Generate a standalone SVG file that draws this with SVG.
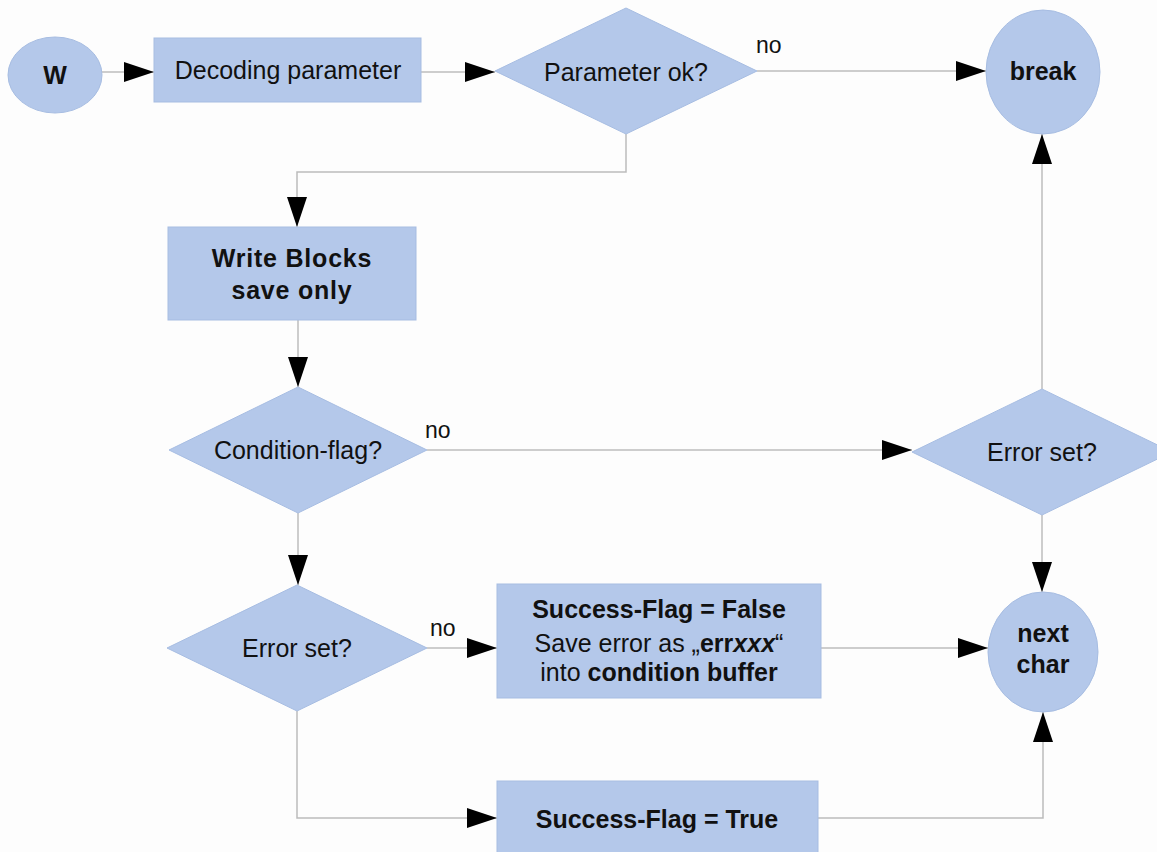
<svg xmlns="http://www.w3.org/2000/svg" width="1157" height="852" viewBox="0 0 1157 852">
  <style>
    .shape { fill: #b4c8ea; stroke: #a7bde2; stroke-width: 1; }
    .conn { fill: none; stroke: #bcbcbc; stroke-width: 1.5; marker-end: url(#arrow); }
    text { font-family: "Liberation Sans", Arial, sans-serif; font-size: 25px; fill: #111; text-anchor: middle; }
    .b { font-weight: bold; }
    .lbl { font-size: 23px; text-anchor: start; }
  </style>
  <defs>
    <marker id="arrow" markerUnits="userSpaceOnUse" markerWidth="30" markerHeight="20" refX="30" refY="10" orient="auto">
      <path d="M0,0 L30,10 L0,20 z" fill="#000"/>
    </marker>
  </defs>
  <rect width="1157" height="852" fill="#fdfdfd"/>

  <!-- connectors -->
  <g id="connectors">
    <path class="conn" d="M102,72 H154"/>
    <path class="conn" d="M421,72 H495"/>
    <path class="conn" d="M757,71 H986"/>
    <path class="conn" d="M626,134 V172 H297 V227"/>
    <path class="conn" d="M298,320 V387"/>
    <path class="conn" d="M427,450 H912"/>
    <path class="conn" d="M1042,389 V134"/>
    <path class="conn" d="M1042,515 V592"/>
    <path class="conn" d="M298,513 V585"/>
    <path class="conn" d="M427,648 H497"/>
    <path class="conn" d="M821,648 H988"/>
    <path class="conn" d="M297,711 V818 H497"/>
    <path class="conn" d="M818,818 H1043 V712"/>
    <text class="lbl" x="756" y="53">no</text>
    <text class="lbl" x="425" y="438">no</text>
    <text class="lbl" x="430" y="636">no</text>
  </g>

  <g id="start">
    <ellipse class="shape" cx="55" cy="75" rx="47" ry="38"/>
    <text class="b" x="55" y="84">W</text>
  </g>

  <g id="decode">
    <rect class="shape" x="154" y="38" width="267" height="64"/>
    <text x="288" y="79">Decoding parameter</text>
  </g>

  <g id="param-ok">
    <polygon class="shape" points="495,71 626,8 757,71 626,134"/>
    <text x="626" y="81">Parameter ok?</text>
  </g>

  <g id="break">
    <ellipse class="shape" cx="1043" cy="72" rx="57" ry="62"/>
    <text class="b" x="1043" y="80">break</text>
  </g>

  <g id="write-blocks">
    <rect class="shape" x="168" y="227" width="248" height="93"/>
    <text class="b" x="292" y="267" letter-spacing="0.8">Write Blocks</text>
    <text class="b" x="292" y="299" letter-spacing="0.8">save only</text>
  </g>

  <g id="condition-flag">
    <polygon class="shape" points="169,450 298,387 427,450 298,513"/>
    <text x="298" y="459">Condition-flag?</text>
  </g>

  <g id="error-set-right">
    <polygon class="shape" points="912,452 1042,389 1172,452 1042,515"/>
    <text x="1042" y="461">Error set?</text>
  </g>

  <g id="error-set-left">
    <polygon class="shape" points="167,648 297,585 427,648 297,711"/>
    <text x="297" y="657">Error set?</text>
  </g>

  <g id="success-false">
    <rect class="shape" x="497" y="584" width="324" height="114"/>
    <text class="b" x="659" y="618">Success-Flag = False</text>
    <text x="659" y="652">Save error as „<tspan class="b">err</tspan><tspan class="b" font-style="italic">xxx</tspan>“</text>
    <text x="659" y="681">into <tspan class="b">condition buffer</tspan></text>
  </g>

  <g id="next-char">
    <ellipse class="shape" cx="1043" cy="652" rx="55" ry="60"/>
    <text class="b" x="1043" y="642">next</text>
    <text class="b" x="1043" y="673">char</text>
  </g>

  <g id="success-true">
    <rect class="shape" x="497" y="781" width="321" height="80"/>
    <text class="b" x="657" y="828">Success-Flag = True</text>
  </g>
</svg>
